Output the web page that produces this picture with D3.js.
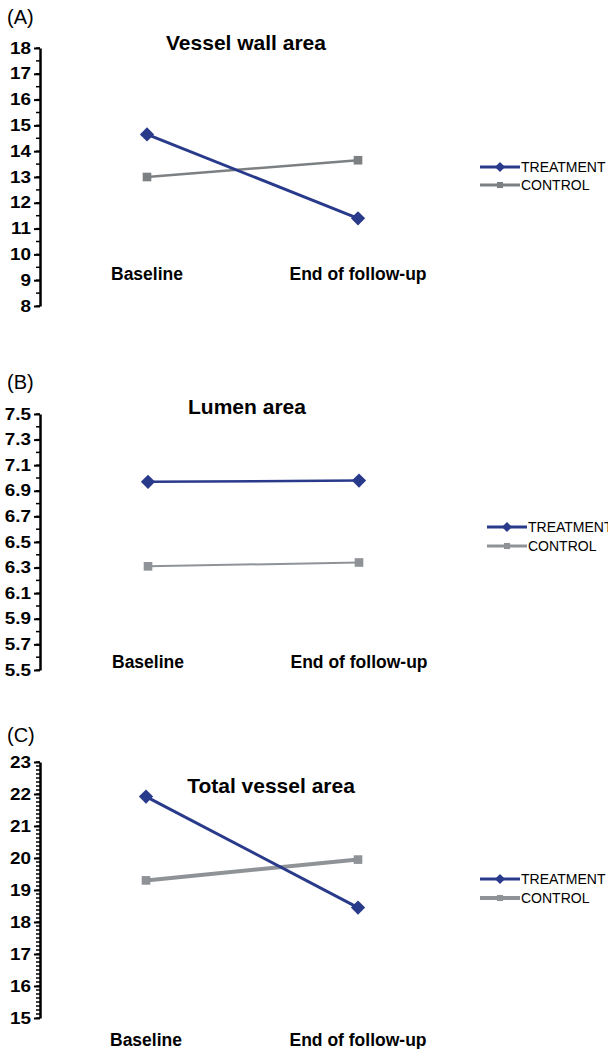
<!DOCTYPE html>
<html><head><meta charset="utf-8">
<script src="https://cdn.jsdelivr.net/npm/d3@7"></script>
<style>body{margin:0;background:#fff}svg{display:block}text{font-family:"Liberation Sans",Arial,sans-serif}</style>
</head><body>
<script>
const categories = ["Baseline", "End of follow-up"];
const seriesNames = ["TREATMENT", "CONTROL"];
const panelLabels = ["(A)", "(B)", "(C)"];
const titles = ["Vessel wall area", "Lumen area", "Total vessel area"];

const wallTreatment = [14.65, 11.4];
const wallControl = [13.0, 13.65];
const lumenTreatment = [6.97, 6.98];
const lumenControl = [6.31, 6.34];
const totalTreatment = [21.92, 18.45];
const totalControl = [19.3, 19.95];

const wallTicks = [8, 9, 10, 11, 12, 13, 14, 15, 16, 17, 18];
const lumenTicks = ["5.5", "5.7", "5.9", "6.1", "6.3", "6.5", "6.7", "6.9", "7.1", "7.3", "7.5"];
const totalTicks = [15, 16, 17, 18, 19, 20, 21, 22, 23];

const W = 608, H = 1049;
const svg = d3.select("body").append("svg").attr("width", W).attr("height", H);

const panels = [
  {t: wallTreatment, c: wallControl, ticks: wallTicks.map(Number), minor: 0.5, dom: [8, 18], yr: [306, 48],
   xr: [147, 358], title: [246, 50], lab: 24, cat: 280, leg: [480, 167, 185], cCol: "#7d8083", tw: 3, cw: 2.5},
  {t: lumenTreatment, c: lumenControl, ticks: lumenTicks.map(Number), minor: 0.1, dom: [5.5, 7.5], yr: [670, 414],
   xr: [148, 359], title: [247, 414], lab: 389, cat: 668, leg: [487, 527, 546], cCol: "#8f9397", tw: 2.5, cw: 2},
  {t: totalTreatment, c: totalControl, ticks: totalTicks.map(Number), minor: 0.125, dom: [15, 23], yr: [1018, 762],
   xr: [146, 358], title: [271, 793], lab: 742, cat: 1046, leg: [480, 879, 898], cCol: "#8f9397", tw: 3, cw: 4}
];
const tickFmt = [d3.format("d"), d3.format(".1f"), d3.format("d")];
const tCol = "#293a8b";
const sx = 1.18;

const diamond = d3.symbol().type(d3.symbolDiamond2);
const square = d3.symbol().type(d3.symbolSquare2);

panels.forEach((p, i) => {
  const g = svg.append("g");
  const y = d3.scaleLinear().domain(p.dom).range(p.yr);
  const x = d3.scalePoint().domain(categories).range(p.xr);
  const axisX = 40;

  const minorVals = d3.range(p.dom[0], p.dom[1] + 1e-9, p.minor);
  g.append("g").selectAll("line").data(minorVals).join("line")
    .attr("x1", axisX - 4).attr("x2", axisX).attr("y1", d => y(d)).attr("y2", d => y(d))
    .attr("stroke", "#000").attr("stroke-width", 1.5);

  const axis = d3.axisLeft(y).tickValues(p.ticks).tickFormat(tickFmt[i]).tickSize(6).tickSizeOuter(0);
  const ag = g.append("g").attr("transform", `translate(${axisX},0)`).call(axis);
  ag.select(".domain").attr("stroke", "#000").attr("stroke-width", 2.5);
  ag.selectAll(".tick line").attr("stroke", "#000").attr("stroke-width", 2);
  ag.selectAll(".tick text").attr("font-size", 16).attr("font-weight", "bold").attr("fill", "#000")
    .attr("x", -9 / sx).attr("transform", `scale(${sx},1)`);

  g.append("text").attr("x", 7).attr("y", p.lab).attr("font-size", 20).text(panelLabels[i]);
  g.append("text").attr("x", p.title[0]).attr("y", p.title[1]).attr("text-anchor", "middle")
    .attr("font-size", 21).attr("font-weight", "bold").text(titles[i]);

  g.append("g").selectAll("text").data(categories).join("text")
    .attr("x", d => x(d)).attr("y", p.cat).attr("text-anchor", "middle")
    .attr("font-size", 17.5).attr("font-weight", "bold").text(d => d);

  const line = d3.line().x((d, k) => x(categories[k])).y(d => y(d));
  const series = [
    {vals: p.t, col: tCol, w: p.tw, sym: diamond, size: 130},
    {vals: p.c, col: p.cCol, w: p.cw, sym: square, size: 95}
  ];
  [series[1], series[0]].forEach(s => {
    g.append("path").datum(s.vals).attr("d", line).attr("fill", "none")
      .attr("stroke", s.col).attr("stroke-width", s.w);
    g.append("g").selectAll("path").data(s.vals).join("path")
      .attr("transform", (d, k) => `translate(${x(categories[k])},${y(d)})`)
      .attr("d", s.sym.size(s.size)).attr("fill", s.col);
  });

  const lg = g.append("g");
  series.forEach((s, k) => {
    const ly = p.leg[1 + k];
    lg.append("line").attr("x1", p.leg[0]).attr("x2", p.leg[0] + 40).attr("y1", ly).attr("y2", ly)
      .attr("stroke", s.col).attr("stroke-width", Math.max(s.w, 3));
    lg.append("path").attr("transform", `translate(${p.leg[0] + 20},${ly})`)
      .attr("d", s.sym.size(s.size * 0.5)).attr("fill", s.col);
    lg.append("text").attr("x", p.leg[0] + 41).attr("y", ly + 5).attr("font-size", 14).text(seriesNames[k]);
  });
});
</script>
</body></html>
